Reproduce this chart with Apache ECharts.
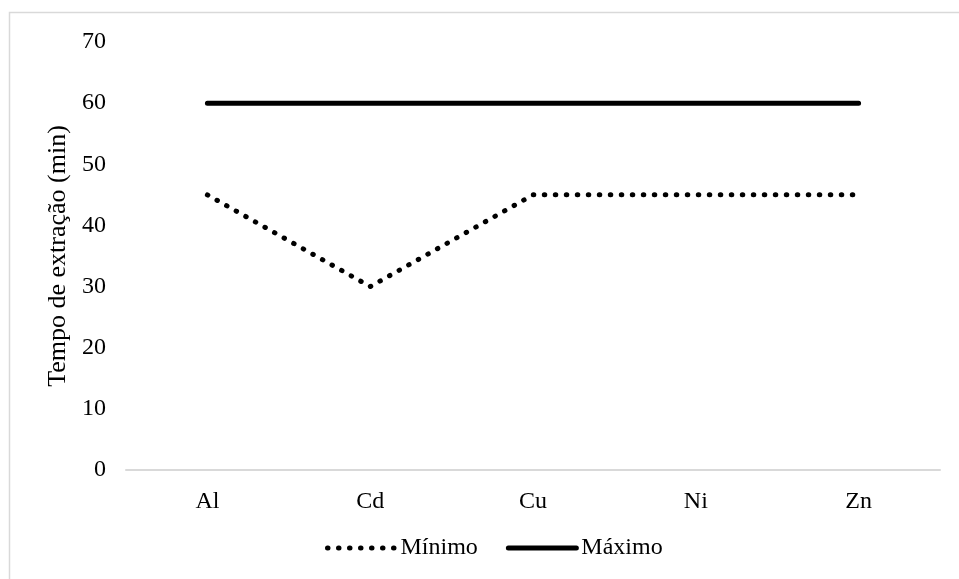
<!DOCTYPE html>
<html>
<head>
<meta charset="utf-8">
<script src="https://cdn.jsdelivr.net/npm/echarts@6/dist/echarts.min.js"></script>
<style>html,body{margin:0;padding:0;background:#fff;}#c{width:959px;height:579px;}</style>
</head>
<body>
<div id="c"></div>
<script>
const categories = ['Al', 'Cd', 'Cu', 'Ni', 'Zn'];
const minimo = [45, 30, 45, 45, 45];
const maximo = [60, 60, 60, 60, 60];
const yTicks = { min: 0, max: 70, interval: 10 };

const font = "'Liberation Serif', 'Times New Roman', serif";
const dotStyle = { color: '#000', width: 5, type: [0.5, 10.5], cap: 'round' };
const solidStyle = { color: '#000', width: 5, cap: 'round', type: 'solid' };
const chart = echarts.init(document.getElementById('c'), null, { renderer: 'canvas' });
chart.setOption({
  animation: false,
  backgroundColor: '#fff',
  graphic: [{
    type: 'rect', left: 7, top: 10, silent: true,
    shape: { width: 980, height: 600 },
    style: { fill: 'none', stroke: '#d9d9d9', lineWidth: 1.5 }
  }],
  grid: { left: 126, right: 19, top: 42, bottom: 109, containLabel: false },
  legend: {
    bottom: 14, left: 320,
    itemWidth: 68, itemHeight: 14, itemGap: 28,
    textStyle: { fontFamily: font, fontSize: 24, color: '#000' },
    itemStyle: { color: 'rgba(0,0,0,0)', borderWidth: 0, opacity: 0 },
    data: [
      { name: 'Mínimo', lineStyle: dotStyle },
      { name: 'Máximo', lineStyle: solidStyle }
    ]
  },
  xAxis: {
    type: 'category', data: categories, boundaryGap: true,
    axisLine: { lineStyle: { color: '#d9d9d9', width: 2 } },
    axisTick: { show: false },
    axisLabel: { fontFamily: font, fontSize: 24, color: '#000', margin: 20 }
  },
  yAxis: {
    type: 'value', min: yTicks.min, max: yTicks.max, interval: yTicks.interval,
    name: 'Tempo de extração (min)', nameLocation: 'middle', nameGap: 54, nameRotate: 90,
    nameTextStyle: { fontFamily: font, fontSize: 26, color: '#000' },
    axisLine: { show: false }, axisTick: { show: false }, splitLine: { show: false },
    axisLabel: { fontFamily: font, fontSize: 24, color: '#000', margin: 20 }
  },
  series: [
    {
      name: 'Mínimo', type: 'line', data: minimo, symbol: 'none',
      lineStyle: dotStyle, itemStyle: { color: '#000' }
    },
    {
      name: 'Máximo', type: 'line', data: maximo, symbol: 'none',
      lineStyle: solidStyle, itemStyle: { color: '#000' }
    }
  ]
});
</script>
</body>
</html>
